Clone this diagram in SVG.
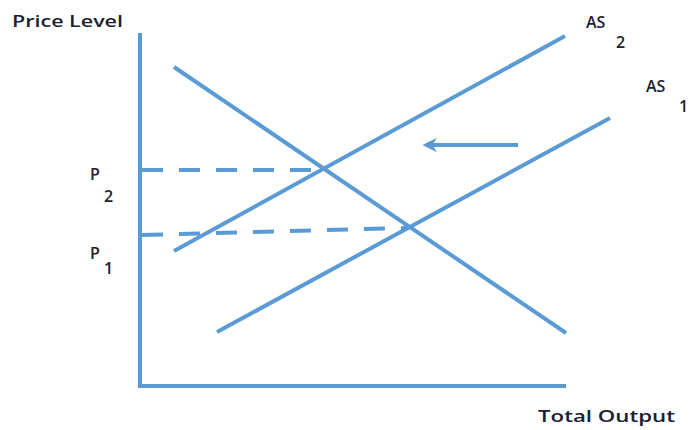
<svg xmlns="http://www.w3.org/2000/svg" width="696" height="430" viewBox="0 0 696 430">
<defs>
<style>
.ln{stroke:#5b9bd5;stroke-width:4;fill:none;stroke-linecap:butt}
.ds{stroke:#5b9bd5;stroke-width:4;fill:none;stroke-dasharray:21 16}
.t{font-family:"Open Sans","Liberation Sans",sans-serif;font-size:16px;font-weight:600;fill:#1c2033}
</style>
<marker id="ah" viewBox="0 0 12 12" refX="9" refY="6" markerWidth="3.6" markerHeight="3.6" orient="auto" markerUnits="strokeWidth">
<path d="M0,0 L12,6 L0,12 L3.5,6 Z" fill="#5b9bd5"/>
</marker>
</defs>
<rect width="696" height="430" fill="#ffffff"/>
<g id="axes">
<path class="ln" d="M140,33 L140,386 L566,386"/>
</g>
<g id="connectors">
<line id="AD" class="ln" x1="174" y1="67" x2="566" y2="333"/>
<line id="AS2" class="ln" x1="174" y1="251" x2="565" y2="36"/>
<line id="AS1" class="ln" x1="217" y1="332" x2="610" y2="118"/>
<line id="p2dash" class="ds" x1="142" y1="170" x2="323" y2="170"/>
<line id="p1dash" class="ds" x1="142" y1="235" x2="406" y2="228"/>
<line id="shift" class="ln" x1="518" y1="145" x2="426" y2="145" marker-end="url(#ah)"/>
</g>
<g id="labels">
<text class="t" x="12" y="27" textLength="111" lengthAdjust="spacingAndGlyphs">Price Level</text>
<text class="t" x="538" y="422" textLength="137" lengthAdjust="spacingAndGlyphs">Total Output</text>
<text class="t" x="586" y="28">AS</text>
<text class="t" x="616" y="48">2</text>
<text class="t" x="646" y="92">AS</text>
<text class="t" x="679" y="112">1</text>
<text class="t" x="90" y="180">P</text>
<text class="t" x="104" y="202">2</text>
<text class="t" x="90" y="259">P</text>
<text class="t" x="104" y="274">1</text>
</g>
</svg>
